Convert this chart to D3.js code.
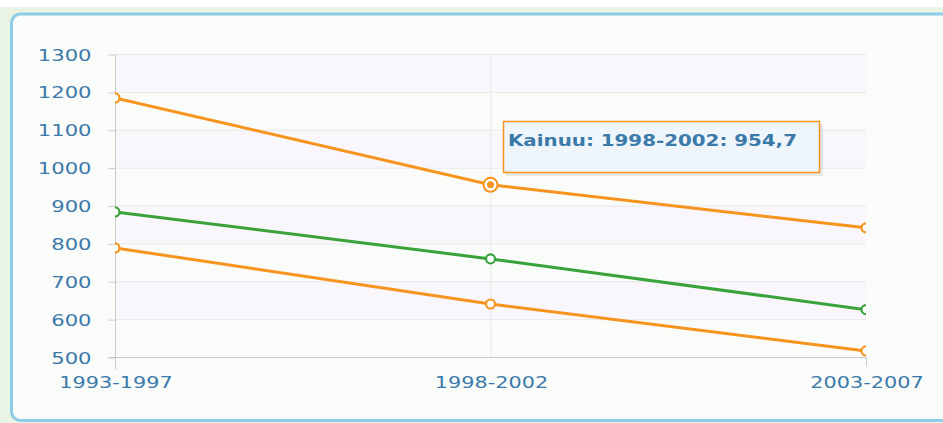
<!DOCTYPE html>
<html>
<head>
<meta charset="utf-8">
<script src="https://cdn.jsdelivr.net/npm/d3@7"></script>
<style>
  body { margin: 0; background: #fff; }
  svg { display: block; }
  text { font-family: "DejaVu Sans", Verdana, sans-serif; }
</style>
</head>
<body>
<div id="chart"></div>
<script>
// data
const periods = ["1993-1997", "1998-2002", "2003-2007"];
const yTicks = [500, 600, 700, 800, 900, 1000, 1100, 1200, 1300];
const kainuu = [1184, 954.7, 841];
const greenSeries = [883, 759, 625];
const lowerOrange = [788, 640, 516];

const W = 943, H = 423;
const orange = "#f7941d", green = "#3aa23a", textBlue = "#3b79a9";

const svg = d3.select("#chart").append("svg")
  .attr("width", W).attr("height", H);

// page background and frame
svg.append("rect").attr("x", 0).attr("y", 7).attr("width", W).attr("height", H - 7)
  .attr("fill", "#eaf4e4");
svg.append("rect").attr("x", 11.5).attr("y", 14).attr("width", W + 20).attr("height", 406.5)
  .attr("rx", 9).attr("fill", "#f9fcf9").attr("stroke", "#8dcbe9").attr("stroke-width", 3);

const pLeft = 115, pRight = 866, pTop = 54, pBottom = 357;
const x = d3.scalePoint().domain(periods).range([pLeft, pRight]);
const y = d3.scaleLinear().domain([500, 1300]).range([pBottom, pTop]);

// alternating bands
const bands = d3.range(0, yTicks.length - 1).filter(i => i % 2 === 0)
  .map(i => [yTicks[yTicks.length - 1 - i], yTicks[yTicks.length - 2 - i]]);
svg.append("g").selectAll("rect").data(bands).join("rect")
  .attr("x", pLeft).attr("width", pRight - pLeft)
  .attr("y", d => y(d[0])).attr("height", d => y(d[1]) - y(d[0]))
  .attr("fill", "#f9f6fc");

// horizontal grid
svg.append("g").selectAll("line").data(yTicks.slice(1)).join("line")
  .attr("x1", pLeft).attr("x2", pRight)
  .attr("y1", d => y(d) + 0.5).attr("y2", d => y(d) + 0.5)
  .attr("stroke", "#e8e8e8");
// vertical grid at middle category
svg.append("line").attr("x1", x(periods[1]) + 0.5).attr("x2", x(periods[1]) + 0.5)
  .attr("y1", pTop).attr("y2", pBottom).attr("stroke", "#e8e8e8");

// y axis
const yAxis = svg.append("g").attr("transform", `translate(${pLeft + 0.5},0.5)`)
  .call(d3.axisLeft(y).tickValues(yTicks).tickSize(7).tickPadding(10).tickFormat(d3.format("d")));
yAxis.select(".domain").remove();
yAxis.append("line").attr("x1", 0).attr("x2", 0).attr("y1", pTop).attr("y2", pBottom + 12)
  .attr("stroke", "#c9c9c9");
yAxis.selectAll(".tick line").attr("stroke", "#c9c9c9");
yAxis.selectAll(".tick text")
  .attr("fill", textBlue).attr("font-size", 16)
  .attr("x", 0).attr("dy", "0.35em")
  .attr("transform", "translate(-24,0) scale(1.32,1)");

// x axis
const xAxis = svg.append("g").attr("transform", `translate(0.5,${pBottom + 0.5})`)
  .call(d3.axisBottom(x).tickSize(0).tickPadding(0));
xAxis.select(".domain").remove();
xAxis.append("line").attr("x1", pLeft - 7).attr("x2", pRight).attr("y1", 0).attr("y2", 0)
  .attr("stroke", "#c9c9c9");
xAxis.append("line").attr("x1", pRight).attr("x2", pRight).attr("y1", 0).attr("y2", 9)
  .attr("stroke", "#c9c9c9");
xAxis.selectAll(".tick text")
  .attr("fill", textBlue).attr("font-size", 16).attr("y", 0).attr("dy", 0)
  .attr("transform", "translate(0,30) scale(1.3,1)");

// clip to plot area
svg.append("clipPath").attr("id", "plot")
  .append("rect").attr("x", pLeft).attr("y", pTop - 10)
  .attr("width", pRight - pLeft).attr("height", pBottom - pTop + 20);

const series = [
  { name: "Kainuu", values: kainuu, color: orange },
  { name: "green", values: greenSeries, color: green },
  { name: "lower", values: lowerOrange, color: orange }
];

const line = d3.line().x((d, i) => x(periods[i])).y(d => y(d));
const plot = svg.append("g").attr("clip-path", "url(#plot)");

plot.selectAll("path.series").data(series).join("path")
  .attr("class", "series")
  .attr("d", d => line(d.values))
  .attr("fill", "none").attr("stroke", d => d.color).attr("stroke-width", 3);

series.forEach(s => {
  plot.append("g").selectAll("circle").data(s.values).join("circle")
    .attr("cx", (d, i) => x(periods[i])).attr("cy", d => y(d))
    .attr("r", 4.5).attr("fill", "#fff").attr("stroke", s.color).attr("stroke-width", 2.2);
});

// highlighted point
const hx = x(periods[1]), hy = y(kainuu[1]);
svg.append("circle").attr("cx", hx).attr("cy", hy).attr("r", 7)
  .attr("fill", "#fff").attr("stroke", orange).attr("stroke-width", 2);
svg.append("circle").attr("cx", hx).attr("cy", hy).attr("r", 3.5).attr("fill", orange);

// tooltip
const tip = svg.append("g").attr("transform", "translate(503,121)");
tip.append("rect").attr("x", 3).attr("y", 3).attr("width", 317).attr("height", 52)
  .attr("fill", "#000").attr("opacity", 0.08);
tip.append("rect").attr("x", 0.5).attr("y", 0.5).attr("width", 316).attr("height", 51)
  .attr("fill", "#eef5fb").attr("stroke", orange).attr("stroke-width", 1.5);
tip.append("text").attr("x", 0).attr("y", 0)
  .attr("font-size", 15.5).attr("font-weight", "bold").attr("fill", textBlue)
  .attr("transform", "translate(5,25) scale(1.28,1)")
  .text(`Kainuu: ${periods[1]}: ${d3.format(".1f")(kainuu[1]).replace(".", ",")}`);
</script>
</body>
</html>
